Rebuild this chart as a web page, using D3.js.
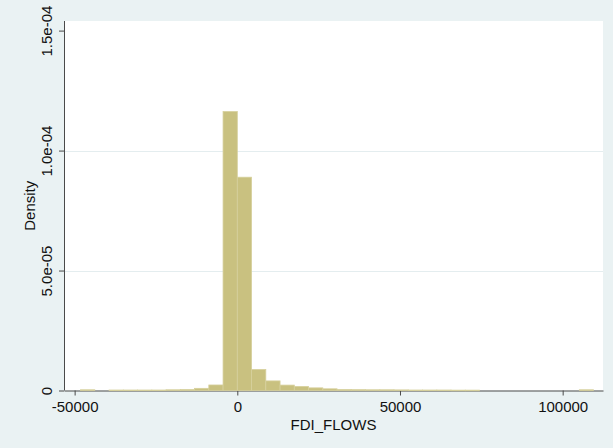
<!DOCTYPE html>
<html>
<head>
<meta charset="utf-8">
<script src="https://cdn.jsdelivr.net/npm/d3@7"></script>
<style>
  body { margin: 0; background: #eaf2f3; }
  text { font-family: "Liberation Sans", Arial, sans-serif; }
</style>
</head>
<body>
<div id="chart"></div>
<script>
// histogram of FDI_FLOWS: 36 bins of equal width
var binStart = -48180,
    binWidth = 4380;

var densities = [
    3e-7, 0, 2e-7, 2e-7, 2e-7, 2e-7, 3e-7, 4e-7, 9e-7, 2.3e-6,
    1.1625e-4, 8.89e-5, 8.75e-6, 4.0e-6, 2.25e-6, 1.67e-6, 1.1e-6, 7e-7,
    4e-7, 3.5e-7, 3e-7, 3e-7, 2.5e-7, 2e-7, 2e-7, 2e-7, 1.5e-7, 1.5e-7,
    0, 0, 0, 0, 0, 0, 0, 3e-7
];

var xTicks = [-50000, 0, 50000, 100000],
    yTicks = [0, 5e-5, 1e-4, 1.5e-4];

var width = 613, height = 448;
var plot = {left: 64, right: 603, top: 21, bottom: 390.5};

var svg = d3.select("#chart").append("svg")
    .attr("width", width)
    .attr("height", height);

svg.append("rect")
    .attr("width", width).attr("height", height)
    .attr("fill", "#eaf2f3");

svg.append("rect")
    .attr("x", plot.left).attr("y", plot.top)
    .attr("width", plot.right - plot.left)
    .attr("height", plot.bottom - plot.top)
    .attr("fill", "#ffffff");

var x = d3.scaleLinear()
    .domain([-53270, 112400])
    .range([plot.left, plot.right]);

var y = d3.scaleLinear()
    .domain([0, 1.54e-4])
    .range([plot.bottom, plot.top]);

// grid lines (interior ticks only)
svg.append("g").selectAll("line")
    .data(yTicks.filter(function(d) { return d > 0 && d < 1.4e-4; }))
    .enter().append("line")
        .attr("x1", plot.left).attr("x2", plot.right)
        .attr("y1", function(d) { return Math.round(y(d)) + 0.5; })
        .attr("y2", function(d) { return Math.round(y(d)) + 0.5; })
        .attr("stroke", "#e4edef")
        .attr("stroke-width", 1);

function fmtY(d) {
    if (d === 0) return "0";
    return d.toExponential(1).replace(/e-(\d)$/, "e-0$1");
}

var yAxis = svg.append("g")
    .attr("transform", "translate(" + plot.left + ",0)")
    .call(d3.axisLeft(y).tickValues(yTicks).tickSize(5).tickSizeOuter(0).tickFormat(fmtY));

var xAxis = svg.append("g")
    .attr("transform", "translate(0," + plot.bottom + ")")
    .call(d3.axisBottom(x).tickValues(xTicks).tickSize(5).tickSizeOuter(0).tickFormat(function(d) { return String(d); }));

[yAxis, xAxis].forEach(function(a) {
    a.select(".domain").attr("stroke", "#4a4a4a");
    a.selectAll(".tick line").attr("stroke", "#4a4a4a");
    a.selectAll("text")
        .attr("fill", "#111")
        .style("font-size", "15px")
        .style("font-family", "'Liberation Sans', Arial, sans-serif");
});

// y domain line should cover the full plot height
yAxis.select(".domain").attr("d", "M0.5," + plot.top + "V" + plot.bottom);

yAxis.selectAll("text")
    .attr("transform", "rotate(-90)")
    .attr("x", 0)
    .attr("y", -12)
    .attr("dy", 0)
    .style("text-anchor", "middle");

xAxis.selectAll("text")
    .attr("y", 21.8)
    .attr("dy", 0);

// bars drawn over the axis base line
var bins = densities.map(function(d, i) {
    return {x0: binStart + i * binWidth, x1: binStart + (i + 1) * binWidth, density: d};
}).filter(function(b) { return b.density > 0; });

svg.append("g").selectAll("rect")
    .data(bins)
    .enter().append("rect")
        .attr("x", function(d) { return x(d.x0); })
        .attr("width", function(d) { return x(d.x1) - x(d.x0); })
        .attr("y", function(d) { return y(d.density); })
        .attr("height", function(d) { return Math.max(0.6, y(0) - y(d.density)); })
        .attr("fill", "#c9c180")
        .attr("stroke", "#d6d09c")
        .attr("stroke-width", 0.8);

// axis titles
svg.append("text")
    .attr("x", (plot.left + plot.right) / 2)
    .attr("y", 430)
    .attr("text-anchor", "middle")
    .attr("fill", "#111")
    .style("font-size", "15px")
    .text("FDI_FLOWS");

svg.append("text")
    .attr("transform", "translate(35," + ((plot.top + plot.bottom) / 2) + ")rotate(-90)")
    .attr("text-anchor", "middle")
    .attr("fill", "#111")
    .style("font-size", "15px")
    .text("Density");
</script>
</body>
</html>
